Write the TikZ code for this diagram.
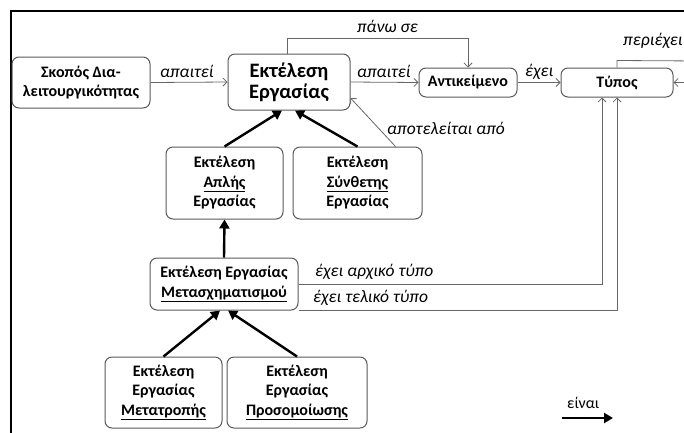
\documentclass[tikz,border=0pt]{standalone}
\usepackage{fontspec}
\setmainfont{Carlito}
\usetikzlibrary{arrows.meta}
\begin{document}
\begin{tikzpicture}[x=1pt,y=-1pt,
  box/.style={draw=black!65, line width=1pt, rounded corners=7pt, align=center, inner sep=0pt,
    font=\fontsize{16}{19.5}\selectfont\bfseries},
  bigbox/.style={box, font=\fontsize{20.5}{21}\selectfont\bfseries},
  lbl/.style={font=\fontsize{17.5}{20}\selectfont\itshape, inner sep=0pt, anchor=base west},
  thinarrow/.style={draw=black!60, line width=0.8pt, -{Straight Barb[length=4pt,width=8pt]}},
  thinline/.style={draw=black!60, line width=0.8pt},
  isa/.style={line width=2.4pt, -{Triangle[length=9pt,width=10pt]}}]
\useasboundingbox (0,0) rectangle (684,432);
\clip (0,0) rectangle (684,432);
\draw[line width=2pt] (700,11) -- (11,11) -- (11,450);

\node[box, minimum width=138pt, minimum height=51pt] (skopos) at (81,82.5) {Σκοπός Δια-\\λειτουργικότητας};
\node[bigbox, minimum width=122pt, minimum height=56pt] (ee) at (289,82) {Εκτέλεση\\Εργασίας};
\node[box, minimum width=98pt, minimum height=29pt] (antik) at (468,82.5) {Αντικείμενο};
\node[box, minimum width=112pt, minimum height=29pt] (typos) at (617,82.5) {Τύπος};
\node[box, minimum width=117pt, minimum height=72pt] (apl) at (224.5,183) {Εκτέλεση\\\underline{Απλής}\\Εργασίας};
\node[box, minimum width=129pt, minimum height=72pt] (syn) at (357.5,183) {Εκτέλεση\\\underline{Σύνθετης}\\Εργασίας};
\node[box, minimum width=148pt, minimum height=52pt] (metas) at (224,284) {Εκτέλεση Εργασίας\\\underline{Μετασχηματισμού}};
\node[box, minimum width=117pt, minimum height=71pt] (metat) at (163.5,392.5) {Εκτέλεση\\Εργασίας\\\underline{Μετατροπής}};
\node[box, minimum width=140pt, minimum height=71pt] (pros) at (297,392.5) {Εκτέλεση\\Εργασίας\\\underline{Προσομοίωσης}};

% labels
\node[lbl] (l1) at (160,77) {απαιτεί};
\node[lbl] (l2) at (357,77) {απαιτεί};
\node[lbl] (l3) at (525,76) {έχει};
\node[lbl] (l4) at (357,32) {πάνω σε};
\node[lbl] (l5) at (623,45) {περιέχει};
\node[lbl] (l6) at (387,134) {αποτελείται από};
\node[lbl] (l7) at (315,276) {έχει αρχικό τύπο};
\node[lbl] (l8) at (313,302) {έχει τελικό τύπο};

% thin connectors
\draw[thinarrow] (skopos.east) -- (ee.west);
\draw[thinarrow] (ee.east) -- (antik.west);
\draw[thinarrow] (antik.east) -- (typos.west);
\draw[thinarrow] ([xshift=-2pt]ee.north) -- ++(0,-15) -| (antik.north);
\coordinate (pout) at (700,61);
\coordinate (pin) at (700,82.5);
\draw[thinline] (typos.north) -- ++(0,-7) -- (pout);
\draw[thinarrow] (pin) -- (typos.east);
\coordinate (synp) at ([xshift=-27pt]syn.north east);
\draw[thinarrow] (synp) -- ([yshift=-16pt]ee.east);
\draw[thinarrow] (metas.east) -| ([xshift=-15pt]typos.south);
\draw[thinarrow] (metas.south east) -| (typos.south);

% is-a arrows
\draw[isa] (apl.north) -- ([xshift=-7pt]ee.south);
\draw[isa] (syn.north) -- ([xshift=6pt]ee.south);
\draw[isa] (metas.north) -- (apl.south);
\draw[isa] (metat.north) -- ([xshift=-4pt]metas.south);
\draw[isa] (pros.north) -- ([xshift=4pt]metas.south);

% legend
\node[font=\fontsize{16}{18}\selectfont, inner sep=0pt, anchor=base west] (einai) at (567,408) {είναι};
\coordinate (lg1) at (562,418);
\coordinate (lg2) at (613,418);
\draw[isa] (lg1) -- (lg2);
\end{tikzpicture}
\end{document}
